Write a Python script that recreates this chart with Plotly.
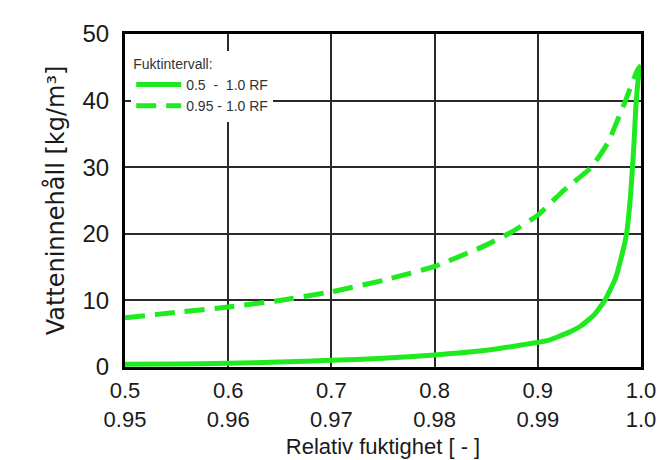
import plotly.graph_objects as go

# Data
rh_solid = [0.5, 0.55, 0.6, 0.65, 0.7, 0.75, 0.8, 0.85, 0.88, 0.91, 0.93, 0.942, 0.955,
            0.965, 0.975, 0.981, 0.986, 0.990, 0.993, 0.995, 0.998, 1.0]
w_solid = [0.4, 0.45, 0.55, 0.75, 1.0, 1.3, 1.8, 2.5, 3.2, 4.0, 5.2, 6.2, 7.9,
           10.0, 13.2, 16.5, 20.0, 26.0, 33.0, 39.0, 44.0, 45.0]

rh_dashed = [0.5, 0.55, 0.6, 0.65, 0.7, 0.75, 0.8, 0.85, 0.875, 0.9, 0.925, 0.952,
             0.968, 0.985, 0.996, 1.0]
w_dashed = [7.4, 8.2, 9.0, 10.0, 11.3, 13.0, 15.1, 18.3, 20.3, 22.8, 26.5, 30.0,
            33.7, 40.0, 44.4, 45.3]

tick_vals = [0.5, 0.6, 0.7, 0.8, 0.9, 1.0]
tick_top = ["0.5", "0.6", "0.7", "0.8", "0.9", "1.0"]
tick_bottom = ["0.95", "0.96", "0.97", "0.98", "0.99", "1.0"]
y_ticks = [0, 10, 20, 30, 40, 50]
series_names = ["0.5  -  1.0 RF", "0.95 - 1.0 RF"]

GREEN = "#1fea1f"
REG = "Liberation Sans, Arial, sans-serif"
TXT = "#1a1a1a"

fig = go.Figure()
fig.add_trace(go.Scatter(x=rh_solid, y=w_solid, mode="lines", name=series_names[0],
                         line=dict(color=GREEN, width=5, shape="spline", smoothing=0.4)))
fig.add_trace(go.Scatter(x=rh_dashed, y=w_dashed, mode="lines", name=series_names[1],
                         line=dict(color=GREEN, width=5, dash="20px,10px",
                                   shape="spline", smoothing=0.4)))

fig.update_layout(
    width=668, height=460,
    margin=dict(l=117, r=35, t=19, b=101),
    paper_bgcolor="white", plot_bgcolor="white",
    font=dict(family=REG, color=TXT),
    showlegend=True,
    legend=dict(x=0.012, y=0.95, xanchor="left", yanchor="top",
                bgcolor="white", borderwidth=0, itemwidth=45,
                title=dict(text="Fuktintervall:", font=dict(family=REG, size=14, color="#333")),
                font=dict(family=REG, size=14, color="#333"), tracegroupgap=0),
    xaxis=dict(range=[0.5, 1.0], tickvals=tick_vals,
               ticktext=[f"{a}<br>{b}" for a, b in zip(tick_top, tick_bottom)],
               tickfont=dict(family=REG, size=22, color=TXT),
               showline=True, linecolor="black", linewidth=3, mirror=True,
               showgrid=True, gridcolor="#2a2a2a", gridwidth=1.5,
               zeroline=False, ticks="", ticklabelstandoff=2,
               title=dict(text="Relativ fuktighet [ - ]",
                          font=dict(family=REG, size=22, color=TXT), standoff=8)),
    yaxis=dict(range=[0, 50], tickvals=y_ticks,
               tickfont=dict(family=REG, size=24, color=TXT),
               showline=True, linecolor="black", linewidth=3, mirror=True,
               showgrid=True, gridcolor="#2a2a2a", gridwidth=1.5,
               zeroline=False, ticks="", ticklabelstandoff=8,
               title=dict(text="Vatteninnehåll [kg/m³]",
                          font=dict(family="DejaVu Sans, sans-serif", size=24, color=TXT),
                          standoff=12)),
)

fig.write_html("out.html")
